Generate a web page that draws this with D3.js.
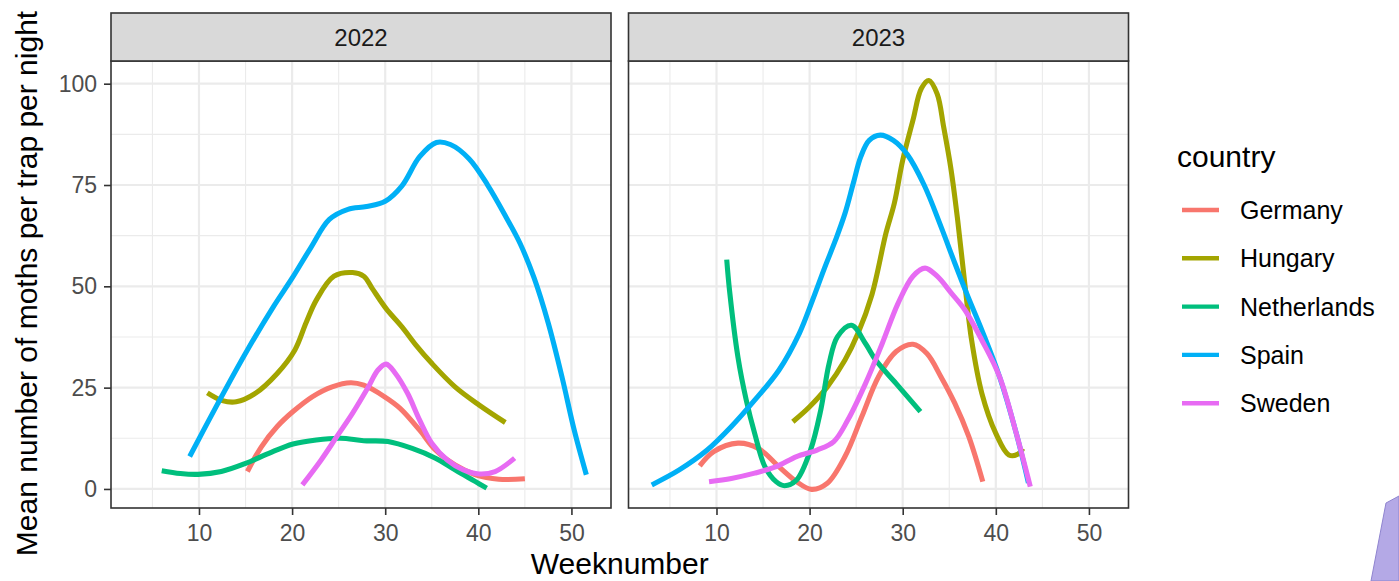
<!DOCTYPE html>
<html>
<head>
<meta charset="utf-8">
<script src="https://cdn.jsdelivr.net/npm/d3@7"></script>
<style>
  body { margin: 0; background: #fff; }
  svg { display: block; font-family: "Liberation Sans", Arial, sans-serif; }
</style>
</head>
<body>
<div class="canvas"></div>
<script>
// data: [weeknumber, mean moths per trap per night]
const years = ['2022', '2023'];
const countries = ['Germany', 'Hungary', 'Netherlands', 'Spain', 'Sweden'];
const colours = ['#F8766D', '#A3A500', '#00BF7D', '#00B0F6', '#E76BF3'];

const xTicks = [10, 20, 30, 40, 50];
const xMinor = [5, 15, 25, 35, 45];
const yTicks = [0, 25, 50, 75, 100];
const yMinor = [12.5, 37.5, 62.5, 87.5];

const germany2022 = [[15.2,4.3],[16.7,10.4],[18.4,15.4],[20.1,19.1],[22.2,22.8],[24.3,25.2],[26.3,26.2],[27.7,25.6],[29.9,22.8],[31.6,19.9],[33.7,14.5],[35.4,9.6],[37.5,5.9],[39.7,3.5],[42.2,2.4],[45,2.5]];
const hungary2022 = [[10.9,23.7],[12.5,21.8],[14,21.5],[16,23.5],[18.4,28.5],[20.3,34.3],[21.5,41],[22.6,46.6],[24.5,52.5],[26.5,53.4],[27.7,52.5],[28.6,49.5],[30.1,44.5],[31.8,40],[33.3,35.5],[35,31],[37.5,25.2],[40.1,20.7],[42.9,16.4]];
const netherlands2022 = [[6,4.5],[8,3.8],[9.9,3.6],[12.4,4.3],[15,6.3],[17.5,8.8],[20.1,11.1],[22.6,12.1],[25.2,12.5],[27.7,11.9],[30.3,11.7],[32.9,10],[35.4,7.6],[37.5,4.7],[39.7,1.8],[40.9,0.2]];
const spain2022 = [[9,8],[12,21],[15,33.5],[18,45],[20,52],[22,59.5],[24,66.5],[26,69],[28,69.7],[30,71],[31.8,74.8],[33.7,82],[35.5,85.5],[37,85],[39,81.5],[41,75],[43,67],[44.5,60.5],[46,52],[47.5,41],[49,27.5],[50.3,14.5],[51.6,3.5]];
const sweden2022 = [[21.1,1],[23.1,7.1],[24.8,12.9],[26.5,18.7],[28.2,25.2],[29.2,29.3],[30.1,30.8],[31.1,28.5],[32.4,23.6],[33.7,17],[35,11.3],[36.7,7.1],[38.4,4.7],[40.1,3.7],[41.8,4.3],[43.9,7.6]];

const germany2023 = [[8.2,5.7],[9.7,9.2],[12.3,11.3],[14.5,10],[16.7,5.5],[18.6,1.8],[20.2,-0.1],[21.9,1.4],[23.8,8],[25.6,17.8],[27.4,27.7],[29.3,33.9],[31.1,35.7],[32.6,33.4],[34.1,27.7],[35.6,21.1],[37.1,12.9],[38.6,1.8]];
const hungary2023 = [[18.2,16.6],[20,20.3],[21.9,25.2],[23.8,31.8],[25.2,38.4],[26.7,48],[28.2,63.1],[29.1,70.5],[30,81.1],[31.1,91],[32,98.8],[32.8,100.8],[33.7,97.5],[34.4,89.3],[35.2,78.7],[35.9,66.4],[36.7,50],[37.4,36.7],[38.5,23.6],[40,13.7],[41.4,8.4],[42.4,8.6],[42.9,10]];
const netherlands2023 = [[11.1,56.6],[11.4,49],[12.3,32.6],[13.2,21.9],[14.1,13.7],[15.2,5.5],[16.4,1.8],[17.3,0.8],[18.6,2.2],[20.1,9.6],[21.2,19.5],[22.1,31],[23,37.6],[24.5,40.4],[26,35.9],[27.1,31.8],[29.3,26],[31.9,19.1]];
const spain2023 = [[3.05,1],[6,4.7],[9,9.6],[11.6,15.4],[14.1,21.9],[16.7,29.3],[18.9,38.4],[20.3,46.5],[21.6,54.5],[22.8,61.5],[23.8,68],[24.7,75.5],[25.5,82],[26.4,86],[27.6,87.3],[29,86],[30.5,82.5],[32.3,75],[34.1,64.8],[35.6,55.7],[37,47.5],[38.5,39.2],[40.4,27.7],[42.2,13.7],[43.5,1.5]];
const sweden2023 = [[9.2,1.8],[11.6,2.6],[14.1,3.9],[16.4,5.5],[18.6,8],[20.8,9.6],[22.6,11.7],[24.1,17],[26,26],[27.8,35.9],[29.5,45.8],[31.1,52.5],[32.4,54.5],[33.7,52.5],[35.2,48.4],[36.7,44.1],[38.5,36.7],[40.4,27.7],[42.2,13.7],[43.7,0.6]];

const seriesByYear = {
    '2022': [germany2022, hungary2022, netherlands2022, spain2022, sweden2022],
    '2023': [germany2023, hungary2023, netherlands2023, spain2023, sweden2023]
};

const svg = d3.select('.canvas')
    .append('svg')
        .attr('width', 1399)
        .attr('height', 581);

// panel geometry
const panelTop = 61;
const panelBottom = 508;
const panelWidth = 500;
const stripTop = 13;
const panelLeft = {'2022': 111, '2023': 628.5};

const x = d3.scaleLinear()
    .domain([0.55, 54.25])
    .range([0, panelWidth]);

const y = d3.scaleLinear()
    .domain([-4.7, 105.6])
    .range([panelBottom, panelTop]);

const colour = d3.scaleOrdinal()
    .domain(countries)
    .range(colours);

const line = d3.line()
    .x(d => x(d[0]))
    .y(d => y(d[1]))
    .curve(d3.curveCatmullRom.alpha(0.5));

years.forEach((year, i) => {
    const graph = svg.append('g')
        .attr('transform', `translate(${panelLeft[year]}, 0)`);

    graph.append('rect')
        .attr('x', 0).attr('y', panelTop)
        .attr('width', panelWidth).attr('height', panelBottom - panelTop)
        .attr('fill', '#fff');

    // grid
    graph.selectAll('.vminor').data(xMinor).enter().append('line')
        .attr('x1', d => x(d)).attr('x2', d => x(d))
        .attr('y1', panelTop).attr('y2', panelBottom)
        .attr('stroke', '#EBEBEB').attr('stroke-width', 1.1);
    graph.selectAll('.hminor').data(yMinor).enter().append('line')
        .attr('x1', 0).attr('x2', panelWidth)
        .attr('y1', d => y(d)).attr('y2', d => y(d))
        .attr('stroke', '#EBEBEB').attr('stroke-width', 1.1);
    graph.selectAll('.vmajor').data(xTicks).enter().append('line')
        .attr('x1', d => x(d)).attr('x2', d => x(d))
        .attr('y1', panelTop).attr('y2', panelBottom)
        .attr('stroke', '#EBEBEB').attr('stroke-width', 2.2);
    graph.selectAll('.hmajor').data(yTicks).enter().append('line')
        .attr('x1', 0).attr('x2', panelWidth)
        .attr('y1', d => y(d)).attr('y2', d => y(d))
        .attr('stroke', '#EBEBEB').attr('stroke-width', 2.2);

    // smoothed curves
    graph.selectAll('.curve')
        .data(seriesByYear[year])
        .enter()
        .append('path')
        .attr('d', line)
        .attr('fill', 'none')
        .attr('stroke', (d, j) => colour(countries[j]))
        .attr('stroke-width', 5.1)
        .attr('stroke-linejoin', 'round');

    graph.append('rect')
        .attr('x', 0).attr('y', panelTop)
        .attr('width', panelWidth).attr('height', panelBottom - panelTop)
        .attr('fill', 'none')
        .attr('stroke', '#333333').attr('stroke-width', 1.6);

    // strip
    graph.append('rect')
        .attr('x', 0).attr('y', stripTop)
        .attr('width', panelWidth).attr('height', panelTop - stripTop)
        .attr('fill', '#D9D9D9')
        .attr('stroke', '#333333').attr('stroke-width', 1.6);
    graph.append('text')
        .attr('x', panelWidth / 2).attr('y', 45.5)
        .attr('text-anchor', 'middle')
        .attr('font-size', 24)
        .attr('fill', '#1A1A1A')
        .text(year);

    // axes
    const xAxisGroup = graph.append('g')
        .attr('transform', `translate(0, ${panelBottom})`)
        .call(d3.axisBottom(x).tickValues(xTicks).tickSize(7).tickPadding(10));
    xAxisGroup.select('.domain').remove();
    xAxisGroup.selectAll('line').attr('stroke', '#333333').attr('stroke-width', 1.6);
    xAxisGroup.selectAll('text').attr('font-size', 23).attr('fill', '#4D4D4D')
        .attr('font-family', '"Liberation Sans", Arial, sans-serif');

    if (i === 0) {
        const yAxisGroup = graph.append('g')
            .call(d3.axisLeft(y).tickValues(yTicks).tickSize(7).tickPadding(7));
        yAxisGroup.select('.domain').remove();
        yAxisGroup.selectAll('line').attr('stroke', '#333333').attr('stroke-width', 1.6);
        yAxisGroup.selectAll('text').attr('font-size', 23).attr('fill', '#4D4D4D')
            .attr('font-family', '"Liberation Sans", Arial, sans-serif');
    }
});

// axis titles
svg.append('text')
    .attr('x', (panelLeft['2022'] + panelLeft['2023'] + panelWidth) / 2)
    .attr('y', 574)
    .attr('text-anchor', 'middle')
    .attr('font-size', 30)
    .attr('fill', '#000')
    .text('Weeknumber');

svg.append('text')
    .attr('transform', `translate(37, ${(panelTop + panelBottom) / 2 - 1}) rotate(-90)`)
    .attr('text-anchor', 'middle')
    .attr('font-size', 30)
    .attr('fill', '#000')
    .text('Mean number of moths per trap per night');

// legend
const legend = svg.append('g')
    .attr('transform', 'translate(1177, 0)');

legend.append('text')
    .attr('x', 0).attr('y', 167)
    .attr('font-size', 30)
    .attr('fill', '#000')
    .text('country');

const keys = legend.selectAll('.key')
    .data(countries)
    .enter()
    .append('g')
    .attr('transform', (d, i) => `translate(0, ${210 + i * 48.3})`);

keys.append('line')
    .attr('x1', 5).attr('x2', 42)
    .attr('y1', 0).attr('y2', 0)
    .attr('stroke', d => colour(d))
    .attr('stroke-width', 4.4);

keys.append('text')
    .attr('x', 63).attr('y', 9)
    .attr('font-size', 25)
    .attr('fill', '#000')
    .text(d => d);

// purple corner shape from the screenshot
svg.append('path')
    .attr('d', 'M1386,503 L1399,496 L1399,581 L1371,581 Z')
    .attr('fill', '#b4a9e6')
    .attr('stroke', '#8f84cf')
    .attr('stroke-width', 1);
</script>
</body>
</html>
